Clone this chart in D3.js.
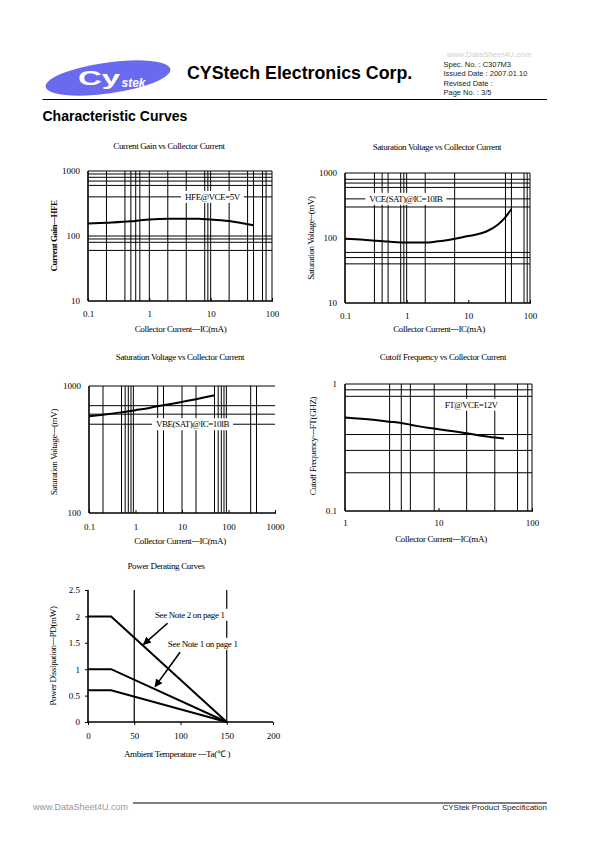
<!DOCTYPE html>
<html><head><meta charset="utf-8">
<script src="https://cdn.jsdelivr.net/npm/d3@7"></script>
<style>body{margin:0;background:#fff;overflow:hidden}svg{display:block}</style>
</head><body>
<script>
// ---------------- DATA ----------------
// Chart 1: Current Gain vs Collector Current
const hfeIC  = [0.1, 0.2, 0.5, 0.8, 1, 2, 5, 7, 10, 20, 30, 50];
const hfeVal = [156, 160, 168, 177, 180, 185, 185, 183, 180, 170, 160, 146];
const c1XGrid = [0.2, 0.4, 0.5, 0.6, 0.7, 1, 2, 4, 8, 9, 10, 20, 40, 50, 70, 80];
const c1YGrid = [900, 800, 700, 600, 400, 100, 90, 80, 60];
const c1XTicks = [0.1, 1, 10, 100];
const c1YTicks = [10, 100, 1000];

// Chart 2: VCE(SAT) vs Collector Current
const vceIC  = [0.1, 0.2, 0.5, 1, 2, 3, 5, 7, 10, 20, 30, 40, 50];
const vceVal = [97, 94, 88, 85, 85, 88, 94, 100, 107, 127, 160, 210, 280];
const c2XGrid = [0.3, 0.4, 0.5, 0.8, 0.9, 1, 2, 6, 40, 50, 80, 90];
const c2YGrid = [800, 700, 600, 400, 300, 60, 50, 40];
const c2XTicks = [0.1, 1, 10, 100];
const c2YTicks = [10, 100, 1000];

// Chart 3: VBE(SAT) vs Collector Current
const vbeIC  = [0.1, 0.2, 0.5, 1, 2, 3, 5, 10, 20, 50];
const vbeVal = [578, 595, 620, 645, 672, 692, 715, 750, 787, 845];
const c3XGrid = [0.2, 0.5, 0.6, 0.7, 0.8, 0.9, 3, 4, 10, 20, 50, 60, 70, 80, 90, 300, 400];
const c3YGrid = [700, 600, 500];
const c3XTicks = [0.1, 1, 10, 100, 1000];
const c3YTicks = [100, 1000];

// Chart 4: Cutoff Frequency vs Collector Current
const ftIC  = [1, 2, 3, 4, 5, 6, 8, 10, 20, 30, 50];
const ftVal = [0.545, 0.523, 0.505, 0.493, 0.478, 0.466, 0.45, 0.44, 0.41, 0.39, 0.372];
const c4XGrid = [3, 4, 5, 9, 20, 40, 70, 90];
const c4YGrid = [0.9, 0.8, 0.4, 0.3, 0.2];
const c4XTicks = [1, 10, 100];
const c4YTicks = [0.1, 1];

// Chart 5: Power Derating Curves
const tempPts = [0, 25, 150];
const pdNote2 = [2, 2, 0];
const pdNote1 = [1, 1, 0];
const pdLow   = [0.6, 0.6, 0];
const c5XGrid = [50, 150];
const c5XTicks = [0, 50, 100, 150, 200];
const c5YTicks = [0, 0.5, 1, 1.5, 2, 2.5];
const noteTexts = ["See Note 2 on page 1", "See Note 1 on page 1"];
const noteTx = [110, 124];
const noteTy = [2.03, 1.48];
const arrowFromX = [86, 99.5], arrowFromY = [1.87, 1.32];
const arrowToX = [60, 72.5],   arrowToY = [1.47, 0.67];

// ---------------- PAGE ----------------
const SERIF = "'Liberation Serif','Times New Roman',serif";
const SANS = "'Liberation Sans',Arial,sans-serif";
const svg = d3.select('body').append('svg').attr('width', 595).attr('height', 842);
svg.append('rect').attr('width', 595).attr('height', 842).attr('fill', '#fff');

// Header
const logo = svg.append('g').attr('transform', 'translate(108,78) rotate(-8)');
logo.append('ellipse').attr('rx', 63).attr('ry', 15.5).attr('fill', '#6a6aee');
svg.append('text').attr('transform', 'translate(78,85) scale(1.65,1)')
  .attr('font-family', SANS).attr('font-weight', 'bold').attr('font-size', 20)
  .attr('fill', '#fff').text('Cy');
svg.append('text').attr('x', 121.5).attr('y', 87)
  .attr('font-family', SANS).attr('font-weight', 'bold').attr('font-style', 'italic')
  .attr('font-size', 12).attr('fill', '#fff').text('stek');
svg.append('text').attr('x', 187).attr('y', 78.5)
  .attr('font-family', SANS).attr('font-weight', 'bold').attr('font-size', 17.8)
  .attr('fill', '#000').text('CYStech Electronics Corp.');
svg.append('text').attr('x', 447).attr('y', 56.5).attr('font-family', SANS)
  .attr('font-size', 8).attr('fill', '#d0d0d0').text('www.DataSheet4U.com');
const hdr = ['Spec. No. : C307M3', 'Issued Date : 2007.01.10', 'Revised Date :', 'Page No. : 3/5'];
hdr.forEach((t, i) => svg.append('text').attr('x', 443.5).attr('y', 66.5 + i * 9.5)
  .attr('font-family', SANS).attr('font-size', 7.5).attr('fill', '#222').text(t));
svg.append('line').attr('x1', 42.5).attr('x2', 547).attr('y1', 99.5).attr('y2', 99.5)
  .attr('stroke', '#000').attr('stroke-width', 1.2);
svg.append('text').attr('x', 42.5).attr('y', 121).attr('font-family', SANS)
  .attr('font-weight', 'bold').attr('font-size', 14).text('Characteristic Curves');

// Footer
svg.append('line').attr('x1', 133).attr('x2', 547).attr('y1', 803).attr('y2', 803)
  .attr('stroke', '#000').attr('stroke-width', 1);
svg.append('text').attr('x', 33).attr('y', 809.5).attr('font-family', SANS)
  .attr('font-size', 9).attr('fill', '#999').text('www.DataSheet4U.com');
svg.append('text').attr('x', 547).attr('y', 809.5).attr('text-anchor', 'end').attr('font-family', SANS)
  .attr('font-size', 8).attr('fill', '#222').text('CYStek Product Specification');

// arrow marker
svg.append('defs').append('marker').attr('id', 'arr').attr('viewBox', '0 0 10 10')
  .attr('refX', 9).attr('refY', 5).attr('markerWidth', 5).attr('markerHeight', 5)
  .attr('orient', 'auto').attr('markerUnits', 'strokeWidth')
  .append('path').attr('d', 'M0,0L10,5L0,10z').attr('fill', '#000');

function txt(g, x, y, s, opt = {}) {
  const t = g.append('text').attr('x', x).attr('y', y).attr('text-anchor', 'middle')
    .attr('font-family', SERIF).attr('font-size', opt.size || 9)
    .attr('letter-spacing', opt.ls != null ? opt.ls : -0.35)
    .attr('font-weight', opt.bold ? 'bold' : 'normal').attr('fill', '#000').text(s);
  if (opt.rot) t.attr('transform', `rotate(-90,${x},${y})`).attr('dominant-baseline', 'central');
  return t;
}

function styleAxis(a) {
  a.select('.domain').remove();
  a.attr('font-family', SERIF).attr('font-size', 9);
  a.selectAll('text').attr('fill', '#000');
  a.selectAll('line').attr('stroke', '#000');
}

function logChart(o) {
  const g = svg.append('g');
  const x = d3.scaleLog().domain(o.xDom).range([o.L, o.R]);
  const y = d3.scaleLog().domain(o.yDom).range([o.B, o.T]);
  g.selectAll('line.vg').data(o.xGrid).join('line').attr('class', 'vg')
    .attr('x1', d => x(d)).attr('x2', d => x(d)).attr('y1', o.T).attr('y2', o.B)
    .attr('stroke', '#000').attr('stroke-width', 1);
  g.selectAll('line.hg').data(o.yGrid).join('line').attr('class', 'hg')
    .attr('x1', o.L).attr('x2', o.R).attr('y1', d => y(d)).attr('y2', d => y(d))
    .attr('stroke', '#000').attr('stroke-width', 1);
  g.append('line').attr('x1', o.L).attr('x2', o.R).attr('y1', o.T).attr('y2', o.T)
    .attr('stroke', '#000').attr('stroke-width', 1);
  if (o.right) g.append('line').attr('x1', o.R).attr('x2', o.R).attr('y1', o.T).attr('y2', o.B)
    .attr('stroke', '#000').attr('stroke-width', 1);
  const lx = x(o.lab[1]), ly = y(o.lab[2]);
  const lg = g.append('g');
  const lt = txt(lg, lx, ly + 3, o.lab[0], { ls: -0.45 });
  const w = lt.node().getComputedTextLength();
  lg.insert('rect', 'text').attr('x', lx - w / 2 - 4).attr('y', ly - 6)
    .attr('width', w + 8).attr('height', 12).attr('fill', '#fff');
  const line = d3.line().x(d => x(d[0])).y(d => y(d[1])).curve(d3.curveMonotoneX);
  g.append('path').datum(d3.zip(o.xs, o.ys)).attr('d', line)
    .attr('fill', 'none').attr('stroke', '#000').attr('stroke-width', 2);
  g.append('g').attr('transform', `translate(0,${o.B})`)
    .call(d3.axisBottom(x).tickValues(o.xTicks).tickFormat(d3.format('~g'))
      .tickSizeInner(-3).tickSizeOuter(0).tickPadding(o.xpad || 10))
    .call(styleAxis);
  g.append('g').attr('transform', `translate(${o.L},0)`)
    .call(d3.axisLeft(y).tickValues(o.yTicks).tickFormat(d3.format('~g'))
      .tickSize(0).tickPadding(8))
    .call(styleAxis);
  g.append('line').attr('x1', o.L).attr('x2', o.L).attr('y1', o.T).attr('y2', o.B)
    .attr('stroke', '#000').attr('stroke-width', 1.6);
  g.append('line').attr('x1', o.L).attr('x2', o.R + 1).attr('y1', o.B).attr('y2', o.B)
    .attr('stroke', '#000').attr('stroke-width', 1.6);
  txt(g, o.title[1], o.title[2], o.title[0]);
  txt(g, o.xl[1], o.xl[2], o.xl[0]);
  txt(g, o.yl[1], o.yl[2], o.yl[0], { rot: true, bold: o.ylBold, ls: o.ylBold ? -0.5 : -0.35 });
}

logChart({ L: 88, R: 272, T: 171, B: 301, xDom: [0.1, 100], yDom: [10, 1000],
  xGrid: c1XGrid, yGrid: c1YGrid, xTicks: c1XTicks, yTicks: c1YTicks,
  xs: hfeIC, ys: hfeVal, right: true, lab: ['HFE@VCE=5V', 10.7, 400],
  title: ['Current Gain vs Collector Current', 169, 149],
  xl: ['Collector Current---IC(mA)', 180.5, 331.5],
  yl: ['Current Gain---HFE', 53.5, 236], ylBold: true });

logChart({ L: 345, R: 530, T: 173, B: 303, xDom: [0.1, 100], yDom: [10, 1000],
  xGrid: c2XGrid, yGrid: c2YGrid, xTicks: c2XTicks, yTicks: c2YTicks,
  xs: vceIC, ys: vceVal, right: true, lab: ['VCE(SAT)@IC=10IB', 0.97, 400],
  title: ['Saturation Voltage vs Collector Current', 437, 150],
  xl: ['Collector Current---IC(mA)', 439, 332],
  yl: ['Saturation Voltage--(mV)', 310.5, 238] });

logChart({ L: 89, R: 275, T: 386, B: 513, xDom: [0.1, 1000], yDom: [100, 1000],
  xGrid: c3XGrid, yGrid: c3YGrid, xTicks: c3XTicks, yTicks: c3YTicks,
  xs: vbeIC, ys: vbeVal, right: false, lab: ['VBE(SAT)@IC=10IB', 16.8, 500], xpad: 11,
  title: ['Saturation Voltage vs Collector Current', 180, 360],
  xl: ['Collector Current---IC(mA)', 180, 544],
  yl: ['Saturation Voltage---(mV)', 53.5, 452] });

logChart({ L: 345, R: 532, T: 384, B: 511, xDom: [1, 100], yDom: [0.1, 1],
  xGrid: c4XGrid, yGrid: c4YGrid, xTicks: c4XTicks, yTicks: c4YTicks,
  xs: ftIC, ys: ftVal, right: true, lab: ['FT@VCE=12V', 22.3, 0.687], xpad: 9,
  title: ['Cutoff Frequency vs Collector Current', 443, 360],
  xl: ['Collector Current---IC(mA)', 441, 542],
  yl: ['Cutoff Frequency---FT(GHZ)', 312.5, 446] });

// Chart 5
(function () {
  const L = 88, R = 273, T = 590, B = 722;
  const g = svg.append('g');
  const x = d3.scaleLinear().domain([0, 200]).range([L, R]);
  const y = d3.scaleLinear().domain([0, 2.5]).range([B, T]);
  g.selectAll('line.vg').data(c5XGrid).join('line').attr('class', 'vg')
    .attr('x1', d => x(d)).attr('x2', d => x(d)).attr('y1', T).attr('y2', B)
    .attr('stroke', '#000').attr('stroke-width', 1.2);
  const line = d3.line().x(d => x(d[0])).y(d => y(d[1]));
  [pdNote2, pdNote1, pdLow].forEach(s => {
    g.append('path').datum(d3.zip(tempPts, s)).attr('d', line)
      .attr('fill', 'none').attr('stroke', '#000').attr('stroke-width', 2);
  });
  noteTexts.forEach((s, i) => {
    const lg = g.append('g');
    const t = txt(lg, x(noteTx[i]), y(noteTy[i]) + 3, s, { ls: -0.35 });
    const w = t.node().getComputedTextLength();
    lg.insert('rect', 'text').attr('x', x(noteTx[i]) - w / 2 - 4).attr('y', y(noteTy[i]) - 6)
      .attr('width', w + 9).attr('height', 12).attr('fill', '#fff');
    g.append('line').attr('x1', x(arrowFromX[i])).attr('y1', y(arrowFromY[i]))
      .attr('x2', x(arrowToX[i])).attr('y2', y(arrowToY[i]))
      .attr('stroke', '#000').attr('stroke-width', 1.6).attr('marker-end', 'url(#arr)');
  });
  g.append('g').attr('transform', `translate(0,${B})`)
    .call(d3.axisBottom(x).tickValues(c5XTicks).tickFormat(d3.format('~g'))
      .tickSize(3).tickPadding(8)).call(styleAxis);
  g.append('g').attr('transform', `translate(${L},0)`)
    .call(d3.axisLeft(y).tickValues(c5YTicks).tickFormat(d3.format('~g'))
      .tickSize(3).tickPadding(5)).call(styleAxis);
  g.append('line').attr('x1', L).attr('x2', L).attr('y1', T).attr('y2', B)
    .attr('stroke', '#000').attr('stroke-width', 1.6);
  g.append('line').attr('x1', L).attr('x2', R).attr('y1', B).attr('y2', B)
    .attr('stroke', '#000').attr('stroke-width', 1.6);
  txt(g, 166, 569, 'Power Derating Curves');
  txt(g, 177, 757, 'Ambient Temperature ---Ta(℃ )');
  txt(g, 53, 656, 'Power Dissipation---PD(mW)', { rot: true });
})();
</script>
</body></html>
